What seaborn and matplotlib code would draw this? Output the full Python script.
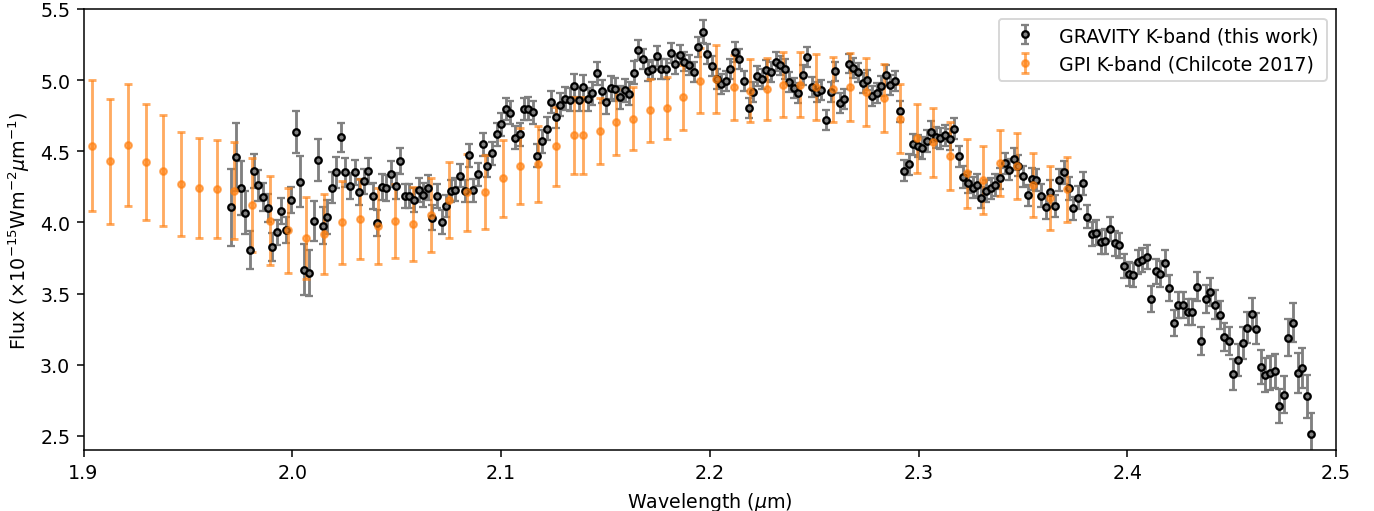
import numpy as np
import matplotlib
matplotlib.use('Agg')
import matplotlib.pyplot as plt
import seaborn as sns

# GRAVITY K-band spectrum (wavelength in micron, flux in 1e-15 W/m2/micron)
grav_wave = [
    1.9707, 1.9728, 1.9752, 1.9773, 1.9796, 1.9815, 1.9838, 1.9860, 1.9882, 1.9903,
    1.9925, 1.9948, 1.9970, 1.9992, 2.0016, 2.0036, 2.0057, 2.0079, 2.0102, 2.0122,
    2.0146, 2.0167, 2.0189, 2.0211, 2.0234, 2.0254, 2.0276, 2.0299, 2.0319, 2.0343,
    2.0364, 2.0386, 2.0407, 2.0429, 2.0451, 2.0474, 2.0496, 2.0516, 2.0539, 2.0561,
    2.0583, 2.0606, 2.0628, 2.0650, 2.0671, 2.0693, 2.0715, 2.0737, 2.0760, 2.0780,
    2.0803, 2.0825, 2.0846, 2.0868, 2.0890, 2.0912, 2.0934, 2.0957, 2.0979, 2.1000,
    2.1022, 2.1044, 2.1066, 2.1089, 2.1109, 2.1131, 2.1152, 2.1174, 2.1197, 2.1219,
    2.1241, 2.1262, 2.1284, 2.1307, 2.1329, 2.1349, 2.1373, 2.1394, 2.1416, 2.1438,
    2.1461, 2.1483, 2.1504, 2.1526, 2.1548, 2.1569, 2.1593, 2.1615, 2.1636, 2.1658,
    2.1680, 2.1702, 2.1724, 2.1747, 2.1767, 2.1790, 2.1812, 2.1833, 2.1855, 2.1877,
    2.1900, 2.1922, 2.1944, 2.1966, 2.1987, 2.2011, 2.2033, 2.2053, 2.2076, 2.2098,
    2.2119, 2.2141, 2.2163, 2.2186, 2.2206, 2.2228, 2.2249, 2.2271, 2.2293, 2.2316,
    2.2338, 2.2359, 2.2381, 2.2403, 2.2424, 2.2446, 2.2468, 2.2491, 2.2514, 2.2535,
    2.2557, 2.2580, 2.2600, 2.2623, 2.2645, 2.2667, 2.2688, 2.2712, 2.2732, 2.2754,
    2.2775, 2.2799, 2.2820, 2.2842, 2.2864, 2.2886, 2.2909, 2.2929, 2.2952, 2.2974,
    2.2996, 2.3018, 2.3039, 2.3061, 2.3083, 2.3105, 2.3128, 2.3150, 2.3170, 2.3192,
    2.3214, 2.3238, 2.3259, 2.3280, 2.3301, 2.3324, 2.3346, 2.3368, 2.3390, 2.3412,
    2.3434, 2.3457, 2.3478, 2.3500, 2.3522, 2.3543, 2.3565, 2.3587, 2.3609, 2.3630,
    2.3652, 2.3674, 2.3697, 2.3719, 2.3741, 2.3764, 2.3786, 2.3807, 2.3829, 2.3851,
    2.3874, 2.3894, 2.3916, 2.3939, 2.3961, 2.3983, 2.4006, 2.4026, 2.4049, 2.4071,
    2.4093, 2.4113, 2.4136, 2.4158, 2.4180, 2.4201, 2.4223, 2.4245, 2.4267, 2.4289,
    2.4311, 2.4333, 2.4354, 2.4376, 2.4398, 2.4420, 2.4443, 2.4465, 2.4485, 2.4508,
    2.4530, 2.4552, 2.4573, 2.4597, 2.4617, 2.4640, 2.4662, 2.4684, 2.4707, 2.4729,
    2.4750, 2.4772, 2.4794, 2.4816, 2.4838, 2.4861, 2.4881,
]
grav_flux = [
    4.106, 4.459, 4.244, 4.069, 3.807, 4.360, 4.260, 4.179, 4.100, 3.827,
    3.930, 4.080, 3.947, 4.157, 4.635, 4.285, 3.667, 3.646, 4.011, 4.438,
    3.978, 4.039, 4.244, 4.352, 4.597, 4.352, 4.258, 4.352, 4.212, 4.288,
    4.363, 4.186, 3.994, 4.251, 4.240, 4.342, 4.258, 4.431, 4.186, 4.186,
    4.157, 4.228, 4.193, 4.245, 4.034, 4.186, 4.001, 4.116, 4.221, 4.230,
    4.328, 4.221, 4.471, 4.225, 4.338, 4.548, 4.396, 4.485, 4.618, 4.690,
    4.798, 4.770, 4.595, 4.618, 4.798, 4.800, 4.774, 4.469, 4.571, 4.660,
    4.847, 4.744, 4.828, 4.870, 4.863, 4.961, 4.863, 4.954, 4.865, 4.907,
    5.047, 4.921, 4.844, 4.947, 4.935, 4.880, 4.928, 4.905, 5.052, 5.211,
    5.150, 5.061, 5.075, 5.169, 5.078, 5.080, 5.190, 5.113, 5.180, 5.131,
    5.108, 5.057, 5.232, 5.341, 5.185, 5.099, 5.010, 4.973, 4.996, 5.078,
    5.201, 5.150, 4.994, 4.802, 4.919, 5.026, 5.005, 5.071, 5.059, 5.131,
    5.103, 5.080, 4.987, 4.945, 4.910, 5.035, 5.160, 4.954, 4.918, 4.933,
    4.720, 4.916, 5.061, 4.842, 4.868, 5.117, 5.085, 5.054, 4.980, 5.003,
    4.889, 4.912, 4.959, 5.038, 4.963, 4.994, 4.781, 4.363, 4.408, 4.548,
    4.538, 4.524, 4.573, 4.639, 4.599, 4.590, 4.613, 4.583, 4.660, 4.464,
    4.319, 4.279, 4.244, 4.263, 4.174, 4.221, 4.240, 4.263, 4.310, 4.415,
    4.370, 4.445, 4.400, 4.324, 4.190, 4.305, 4.298, 4.188, 4.106, 4.216,
    4.116, 4.298, 4.352, 4.240, 4.100, 4.174, 4.275, 4.041, 3.920, 3.929,
    3.863, 3.866, 3.955, 3.852, 3.838, 3.696, 3.639, 3.630, 3.723, 3.735,
    3.754, 3.462, 3.656, 3.637, 3.713, 3.539, 3.293, 3.420, 3.420, 3.371,
    3.371, 3.548, 3.168, 3.460, 3.509, 3.422, 3.348, 3.196, 3.166, 2.932,
    3.033, 3.152, 3.261, 3.359, 3.254, 2.984, 2.925, 2.939, 2.956, 2.711,
    2.788, 3.189, 3.296, 2.942, 2.979, 2.778, 2.512,
]
grav_err = [
    0.27, 0.24, 0.19, 0.15, 0.135, 0.12, 0.11, 0.10, 0.10, 0.10,
    0.09, 0.09, 0.09, 0.09, 0.15, 0.18, 0.18, 0.16, 0.14, 0.145,
    0.13, 0.12, 0.11, 0.11, 0.10, 0.10, 0.09, 0.09, 0.09, 0.09,
    0.09, 0.09, 0.09, 0.09, 0.09, 0.09, 0.09, 0.09, 0.085, 0.085,
    0.085, 0.085, 0.085, 0.085, 0.085, 0.085, 0.085, 0.08, 0.08, 0.08,
    0.08, 0.08, 0.08, 0.08, 0.08, 0.08, 0.08, 0.08, 0.08, 0.08,
    0.08, 0.08, 0.08, 0.08, 0.08, 0.08, 0.08, 0.08, 0.08, 0.08,
    0.08, 0.08, 0.08, 0.08, 0.08, 0.08, 0.08, 0.08, 0.08, 0.08,
    0.08, 0.08, 0.08, 0.08, 0.08, 0.08, 0.08, 0.08, 0.08, 0.07,
    0.07, 0.07, 0.07, 0.07, 0.07, 0.07, 0.07, 0.07, 0.07, 0.07,
    0.07, 0.07, 0.07, 0.08, 0.07, 0.07, 0.07, 0.07, 0.07, 0.07,
    0.07, 0.07, 0.07, 0.07, 0.07, 0.07, 0.07, 0.07, 0.07, 0.07,
    0.07, 0.07, 0.07, 0.07, 0.07, 0.07, 0.07, 0.07, 0.07, 0.07,
    0.07, 0.07, 0.07, 0.07, 0.07, 0.07, 0.07, 0.07, 0.07, 0.07,
    0.07, 0.07, 0.07, 0.07, 0.07, 0.07, 0.075, 0.075, 0.075, 0.075,
    0.075, 0.075, 0.075, 0.075, 0.075, 0.075, 0.075, 0.075, 0.075, 0.075,
    0.075, 0.075, 0.075, 0.075, 0.075, 0.075, 0.075, 0.075, 0.075, 0.075,
    0.075, 0.075, 0.075, 0.075, 0.075, 0.075, 0.075, 0.08, 0.08, 0.08,
    0.08, 0.08, 0.08, 0.08, 0.08, 0.08, 0.08, 0.08, 0.085, 0.085,
    0.085, 0.085, 0.085, 0.085, 0.085, 0.085, 0.085, 0.085, 0.085, 0.085,
    0.085, 0.09, 0.09, 0.09, 0.09, 0.09, 0.09, 0.09, 0.09, 0.09,
    0.09, 0.10, 0.10, 0.10, 0.10, 0.10, 0.10, 0.10, 0.10, 0.11,
    0.11, 0.11, 0.11, 0.11, 0.11, 0.12, 0.12, 0.12, 0.12, 0.12,
    0.13, 0.13, 0.14, 0.14, 0.14, 0.15, 0.15,
]

# GPI K-band spectrum (Chilcote 2017)
gpi_wave = [
    1.9041, 1.9129, 1.9213, 1.9299, 1.9383, 1.9469, 1.9555, 1.9639, 1.9723, 1.9809,
    1.9895, 1.9979, 2.0067, 2.0152, 2.0240, 2.0324, 2.0410, 2.0494, 2.0580, 2.0664,
    2.0750, 2.0836, 2.0922, 2.1008, 2.1092, 2.1178, 2.1264, 2.1348, 2.1392, 2.1474,
    2.1553, 2.1632, 2.1712, 2.1793, 2.1872, 2.1952, 2.2031, 2.2114, 2.2193, 2.2273,
    2.2352, 2.2432, 2.2511, 2.2591, 2.2670, 2.2750, 2.2833, 2.2912, 2.2991, 2.3071,
    2.3150, 2.3231, 2.3311, 2.3390, 2.3470, 2.3549, 2.3629, 2.3711,
]
gpi_flux = [
    4.540, 4.430, 4.545, 4.424, 4.363, 4.267, 4.240, 4.235, 4.223, 4.123,
    4.013, 3.945, 3.890, 3.917, 4.000, 4.025, 3.975, 4.008, 3.992, 4.053,
    4.158, 4.212, 4.212, 4.310, 4.396, 4.410, 4.534, 4.613, 4.613, 4.641,
    4.706, 4.730, 4.788, 4.805, 4.879, 4.996, 5.010, 4.949, 4.926, 4.937,
    4.968, 4.968, 4.952, 4.935, 4.952, 4.916, 4.875, 4.730, 4.590, 4.562,
    4.468, 4.344, 4.298, 4.419, 4.398, 4.263, 4.174, 4.232,
]
gpi_err = [
    0.46, 0.44, 0.43, 0.41, 0.39, 0.365, 0.35, 0.345, 0.34, 0.33,
    0.31, 0.30, 0.29, 0.28, 0.29, 0.28, 0.27, 0.26, 0.26, 0.26,
    0.27, 0.27, 0.26, 0.27, 0.27, 0.27, 0.28, 0.27, 0.27, 0.23,
    0.23, 0.22, 0.22, 0.22, 0.23, 0.23, 0.24, 0.23, 0.22, 0.22,
    0.23, 0.23, 0.23, 0.23, 0.24, 0.24, 0.24, 0.245, 0.245, 0.245,
    0.24, 0.245, 0.24, 0.23, 0.23, 0.225, 0.225, 0.23,
]

sns.set_style("ticks", rc={'axes.edgecolor': 'black', 'text.color': 'black',
                           'axes.labelcolor': 'black', 'xtick.color': 'black',
                           'ytick.color': 'black'})
plt.rcParams['font.family'] = ['DejaVu Sans']
plt.rcParams['mathtext.fontset'] = 'dejavusans'

# saved at dpi 137 so default 10pt text comes out the same size as the reference
fig, ax = plt.subplots(figsize=(10.03, 3.737), dpi=137)
fig.subplots_adjust(left=0.0608, right=0.9723, top=0.9805, bottom=0.1191)

ax.errorbar(grav_wave, grav_flux, yerr=grav_err, fmt='o', color='black',
            ecolor='gray', elinewidth=1.5, capsize=2.3, capthick=1.5,
            markersize=3.4, markerfacecolor='gray', markeredgecolor='black',
            markeredgewidth=1.2, label='GRAVITY K-band (this work)')
ax.errorbar(gpi_wave, gpi_flux, yerr=gpi_err, fmt='o', color='tab:orange',
            elinewidth=1.5, capsize=2.3, capthick=1.5, markersize=3.6, alpha=0.65,
            label='GPI K-band (Chilcote 2017)')

ax.set_xlim(1.9, 2.5)
ax.set_ylim(2.4, 5.5)
ax.set_xticks([1.9, 2.0, 2.1, 2.2, 2.3, 2.4, 2.5])
ax.set_yticks([2.5, 3.0, 3.5, 4.0, 4.5, 5.0, 5.5])
ax.set_xlabel(r'Wavelength ($\mu$m)')
ax.set_ylabel(r'Flux ($\times10^{-15}$Wm$^{-2}\mu$m$^{-1}$)')
ax.legend(loc='upper right')

plt.savefig('out.png', dpi=137)
